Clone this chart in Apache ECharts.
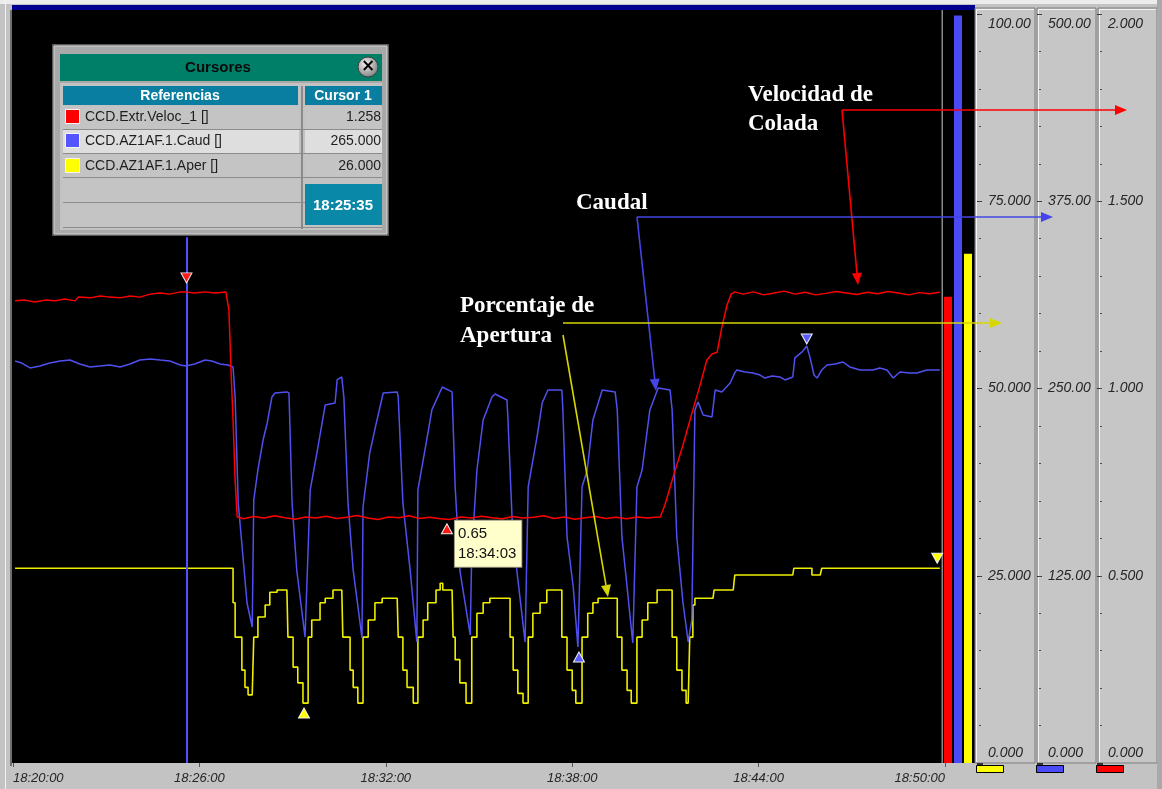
<!DOCTYPE html>
<html>
<head>
<meta charset="utf-8">
<script src="https://cdn.jsdelivr.net/npm/echarts@6/dist/echarts.min.js"></script>
<style>
html,body{margin:0;padding:0;background:#c3c3c3;}
#chart{width:1162px;height:789px;}
</style>
</head>
<body>
<div id="chart"></div>
<script>
// ---------------- DATA ----------------
// time in seconds after 18:20:00
const timeTicks = ['18:20:00','18:26:00','18:32:00','18:38:00','18:44:00','18:50:00'];
const aperTicks = ['0.000','25.000','50.000','75.000','100.00'];
const caudTicks = ['0.000','125.00','250.00','375.00','500.00'];
const velTicks  = ['0.000','0.500','1.000','1.500','2.000'];

// CCD.Extr.Veloc_1 (velocidad de colada, 0-2)
const velocidad = [
 [4,1.234],[23,1.236],[42,1.231],[62,1.236],[81,1.234],[100,1.239],[120,1.234],[126,1.244],
 [149,1.242],[168,1.247],[187,1.244],[207,1.242],[226,1.247],[245,1.244],[265,1.252],[284,1.255],
 [303,1.252],[323,1.258],[334,1.258],[351,1.255],[371,1.258],[390,1.255],[411,1.258],
 [417,1.210],[421,1.049],[425,0.916],[429,0.756],[433,0.657],
 [445,0.652],[465,0.658],[485,0.654],[505,0.660],[525,0.655],[545,0.651],[565,0.657],[585,0.654],
 [605,0.659],[625,0.653],[645,0.656],[665,0.661],[685,0.654],[705,0.650],[725,0.657],[745,0.655],
 [765,0.660],[785,0.653],[805,0.656],[825,0.652],[843,0.650],[865,0.657],[885,0.654],[905,0.659],
 [925,0.655],[945,0.652],[965,0.658],[985,0.654],[1005,0.656],[1025,0.660],[1045,0.653],[1065,0.657],
 [1085,0.651],[1105,0.655],[1125,0.658],[1145,0.653],[1165,0.656],[1185,0.652],[1205,0.657],
 [1225,0.654],[1240,0.656],[1250,0.657],
 [1259,0.689],[1275,0.764],[1294,0.849],[1313,0.943],[1327,1.009],[1340,1.076],[1350,1.092],
 [1360,1.097],[1369,1.164],[1379,1.223],[1387,1.252],[1394,1.258],
 [1410,1.252],[1430,1.258],[1450,1.250],[1470,1.255],[1490,1.260],[1510,1.252],[1530,1.257],
 [1550,1.250],[1570,1.254],[1590,1.259],[1610,1.255],[1630,1.251],[1650,1.257],[1670,1.253],
 [1690,1.259],[1710,1.255],[1730,1.250],[1750,1.256],[1770,1.253],[1790,1.257]
];

// CCD.AZ1AF.1.Caud (caudal, 0-500)
const caudal = [
 [4,268.4],[17,267.0],[33,263.7],[52,265.0],[71,267.0],[91,268.4],[110,269.0],[129,266.4],
 [149,264.4],[168,265.0],[187,265.7],[207,264.4],[226,266.4],[245,269.0],[265,269.7],[284,269.0],
 [303,268.4],[323,265.7],[334,265.0],[351,266.4],[371,269.0],[384,268.4],[400,266.4],[415,265.7],
 [425,264.4],[429,244.3],[435,173.6],[452,106.8],[462,90.8],[465,175.6],[473,195.6],[483,215.6],
 [491,227.0],[500,244.3],[506,247.0],[529,247.7],[533,247.0],[539,173.6],[548,128.8],[564,84.1],
 [574,182.3],[587,207.0],[597,227.0],[603,239.0],[622,240.3],[626,255.7],[635,257.7],[639,244.3],
 [647,173.6],[657,128.8],[674,83.5],[676,170.9],[689,207.0],[703,229.0],[715,247.0],[742,247.7],
 [744,244.3],[753,173.6],[767,128.8],[780,80.8],[782,182.3],[800,217.6],[809,235.7],[829,251.0],
 [848,247.7],[854,184.3],[863,128.8],[883,85.5],[886,140.2],[896,195.6],[908,229.0],[925,244.3],
 [931,246.3],[954,242.3],[956,229.0],[964,162.2],[973,128.8],[989,80.8],[995,184.3],[1012,217.6],
 [1022,240.3],[1033,249.0],[1060,249.0],[1062,235.7],[1070,150.9],[1082,117.5],[1091,77.4],
 [1099,184.3],[1109,195.6],[1120,229.0],[1138,249.0],[1163,247.7],[1167,235.7],[1176,150.9],
 [1186,117.5],[1197,80.1],[1205,184.3],[1215,195.6],[1230,235.7],[1246,250.4],[1269,249.0],
 [1273,235.7],[1282,150.9],[1294,106.8],[1304,80.8],[1311,95.5],[1317,235.7],[1323,241.0],
 [1333,232.3],[1350,231.0],[1356,249.0],[1369,247.7],[1385,253.7],[1394,260.4],[1398,262.4],
 [1414,261.0],[1429,260.4],[1443,259.0],[1452,257.0],[1466,258.4],[1481,257.7],[1491,255.7],
 [1506,257.7],[1510,270.4],[1524,274.4],[1533,278.4],[1539,271.1],[1547,259.0],[1553,257.0],
 [1562,262.4],[1572,265.7],[1588,266.4],[1603,267.7],[1616,264.4],[1636,262.4],[1661,262.4],
 [1674,263.7],[1688,262.4],[1700,257.0],[1713,261.0],[1732,260.4],[1746,260.4],[1765,262.4],
 [1790,262.4]
];

// CCD.AZ1AF.1.Aper (porcentaje de apertura, 0-100)
const apertura = [
 [4,26.0],[421,26.0],[425,21.4],[429,16.8],[442,12.4],[448,10.1],[454,9.1],[462,9.1],
 [465,16.8],[473,19.5],[487,21.1],[496,22.8],[510,23.1],[529,23.1],[531,16.8],[541,12.8],
 [550,10.7],[560,8.0],[564,8.0],[570,16.8],[577,19.1],[593,21.4],[603,22.0],[618,23.1],
 [635,23.1],[637,16.8],[651,12.4],[657,10.1],[666,8.0],[670,8.0],[676,16.8],[686,19.1],
 [699,21.4],[713,22.0],[742,22.0],[744,16.8],[753,12.4],[761,10.1],[773,8.0],[776,8.0],
 [782,16.8],[792,19.1],[801,21.4],[817,23.1],[825,24.0],[830,23.1],[848,23.1],[850,16.8],
 [854,13.8],[863,10.7],[875,8.0],[879,8.0],[886,16.8],[896,20.0],[908,21.4],[921,22.0],
 [954,22.0],[960,16.8],[966,12.4],[975,9.3],[985,8.0],[989,8.0],[995,16.8],[1004,20.0],
 [1018,21.4],[1031,23.1],[1056,23.1],[1060,16.8],[1070,12.4],[1080,9.7],[1087,8.0],[1091,8.0],
 [1099,16.8],[1110,20.0],[1120,21.4],[1130,22.0],[1163,22.0],[1167,16.8],[1176,12.4],[1186,9.7],
 [1194,8.0],[1197,8.0],[1205,16.8],[1215,19.1],[1226,21.4],[1244,23.1],[1269,23.1],[1273,16.8],
 [1282,12.4],[1292,9.7],[1300,8.0],[1304,8.0],[1307,16.8],[1313,21.1],[1317,22.0],[1352,22.0],
 [1354,23.1],[1391,23.1],[1394,25.1],[1506,25.1],[1508,26.0],[1539,26.0],[1543,25.1],[1559,25.1],
 [1562,26.0],[1790,26.0]
];

// cursor / marker readings
const cursorTime = 335;            // 18:25:35
const cursorClock = '18:25:35';
const cursorNames  = ['CCD.Extr.Veloc_1 []','CCD.AZ1AF.1.Caud []','CCD.AZ1AF.1.Aper []'];
const cursorValues = ['1.258','265.000','26.000'];
const velMarks  = [[335,1.258],[838,0.655]];
const caudMarks = [[1093,77.4],[1533,278.4]];
const aperMarks = [[562,8.0],[1785,26.0]];
const velReadout = ['0.65','18:34:03'];

// right-hand level bars
const barVel  = [1.245];
const barCaud = [499];
const barAper = [68];

// ---------------- STYLE ----------------
const RED = '#ff0000', BLUE = '#5050f0', YEL = '#eeee00';
const axisFont = {fontStyle:'italic', fontFamily:'Liberation Sans', fontSize:14, color:'#262626'};

function rightAxis(max, interval, offset, labels){
  return {
    gridIndex:0, type:'value', min:0, max:max, interval:interval, position:'right', offset:offset,
    axisLine:{show:false, onZero:false},
    axisTick:{show:true, length:5, lineStyle:{color:'#333', width:1}},
    minorTick:{show:false},
    splitLine:{show:false},
    axisLabel:Object.assign({margin:11, align:'left', padding:[3,0,3,0], formatter:(v,i)=>labels[i],
      verticalAlignMinLabel:'bottom', verticalAlignMaxLabel:'top'}, axisFont)
  };
}
// small dotted sub-ticks on each scale column (every 1/20 of the range)
function dotAxis(max, offset){
  return {
    gridIndex:0, type:'value', min:0, max:max, interval:max/20, position:'right', offset:offset,
    axisLine:{show:false, onZero:false}, splitLine:{show:false}, axisLabel:{show:false},
    axisTick:{show:true, length:2, lineStyle:{color:'#4a4a4a', width:1.2}}
  };
}

function markItems(pts, rot, offs){
  return pts.map((p,i)=>({value:p, symbolRotate:rot[i], symbolOffset:offs[i]}));
}

function arrow(x1,y1,x2,y2,color){
  const dx=x2-x1, dy=y2-y1, L=Math.hypot(dx,dy), ux=dx/L, uy=dy/L, hl=12, hw=5;
  const bx=x2-ux*hl, by=y2-uy*hl;
  return [
    {type:'line', z:60, shape:{x1:x1,y1:y1,x2:bx,y2:by}, style:{stroke:color, lineWidth:1.6}},
    {type:'polygon', z:60, shape:{points:[[x2,y2],[bx-uy*hw,by+ux*hw],[bx+uy*hw,by-ux*hw]]}, style:{fill:color}}
  ];
}
function txt(text,x,y,opt){
  return {type:'text', z:opt.z||55, style:Object.assign({text:text, x:x, y:y, verticalAlign:'middle'}, opt.style)};
}
function rect(x,y,w,h,fill,stroke,z,lw){
  return {type:'rect', z:z, shape:{x:x,y:y,width:w,height:h}, style:{fill:fill, stroke:stroke||null, lineWidth:lw||1}};
}
const annFont = {fill:'#ffffff', fontSize:23, fontWeight:'bold', fontFamily:'Liberation Serif'};
const boxFont = {fill:'#1e1e1e', fontSize:14, fontFamily:'Liberation Sans'};

const graphics = [];
// frame / background pieces
graphics.push(rect(0,0,1162,4,'#ececec',null,-20));
graphics.push(rect(12,5,963,5,'#000090',null,-19));
graphics.push(rect(5,0,1,789,'#f2f2f2',null,-19));
graphics.push(rect(10,10,2,756,'#707070',null,-19));
graphics.push(rect(12,10,963,753,'#000000',null,-18));
graphics.push(rect(941.5,10,1.5,753,'#8a8a8a',null,-17));
// right axis panels
[[975,60],[1037,59],[1098,59]].forEach(c=>{
  graphics.push(rect(c[0],8,c[1],755,'#c6c6c6','#7c7c7c',-16));
  graphics.push({type:'line', z:-15, shape:{x1:c[0]+1.5,y1:9,x2:c[0]+1.5,y2:762}, style:{stroke:'#f4f4f4', lineWidth:1}});
  graphics.push({type:'line', z:-15, shape:{x1:c[0]+1,y1:9.5,x2:c[0]+c[1]-1,y2:9.5}, style:{stroke:'#f4f4f4', lineWidth:1}});
});
graphics.push(rect(1157,0,5,789,'#a9a9a9',null,-16));
// colour keys under the axis panels
[[976,'#ffff00'],[1036,'#4a4af6'],[1096,'#ff0000']].forEach(c=>{
  graphics.push(rect(c[0]+0.5,765.5,27,7,c[1],'#000',5));
  graphics.push(rect(c[0]+1,763,6,2,'#333',null,5));
});

// cursor box
graphics.push(rect(52,44,337,192,'#5a5a5a',null,50));
graphics.push(rect(54,46,333,188,'#a9a9a9','#d8d8d8',50));
graphics.push(rect(60,54,322,27,'#007f68',null,51));
graphics.push(txt('Cursores',218,68,{z:52,style:{fill:'#0a0a0a',fontSize:15,fontWeight:'bold',fontFamily:'Liberation Sans',align:'center'}}));
graphics.push({type:'circle', z:52, shape:{cx:368,cy:67,r:10}, style:{fill:{type:'radial',x:0.4,y:0.35,r:0.7,colorStops:[{offset:0,color:'#f2f2f2'},{offset:1,color:'#7a7a7a'}]}, stroke:'#404040', lineWidth:1}});
graphics.push(txt('\u00d7',368,67,{z:53,style:{fill:'#000',fontSize:17,fontWeight:'bold',fontFamily:'DejaVu Sans',align:'center'}}));
graphics.push(rect(60,83,322,147,'#c2c2c2',null,51));
graphics.push(rect(63,86,235,19,'#0a7ea0',null,52));
graphics.push(rect(305,86,77,19,'#0a7ea0',null,52));
graphics.push(txt('Referencias',180,96,{z:53,style:{fill:'#ffffff',fontSize:14,fontWeight:'bold',fontFamily:'Liberation Sans',align:'center'}}));
graphics.push(txt('Cursor 1',343,96,{z:53,style:{fill:'#ffffff',fontSize:14,fontWeight:'bold',fontFamily:'Liberation Sans',align:'center'}}));
const rowY = [107,130,155,179,204];
const rowH = [22,23,22,23,23];
const rowFill = ['#c4c4c4','#dedede','#c4c4c4','#c4c4c4','#c4c4c4'];
rowY.forEach((y,i)=>{
  graphics.push(rect(63,y,236,rowH[i],rowFill[i],null,52));
  if(i<3) graphics.push(rect(305,y,77,rowH[i],rowFill[i],null,52));
  graphics.push({type:'line', z:53, shape:{x1:63,y1:y+rowH[i]+0.5,x2:382,y2:y+rowH[i]+0.5}, style:{stroke:'#8c8c8c',lineWidth:1}});
});
graphics.push({type:'line', z:54, shape:{x1:302,y1:86,x2:302,y2:229}, style:{stroke:'#8a8a8a',lineWidth:2}});
graphics.push(rect(305,184,77,41,'#0a88a8',null,55));
graphics.push(txt(cursorClock,343,206,{z:56,style:{fill:'#ffffff',fontSize:15,fontWeight:'bold',fontFamily:'Liberation Sans',align:'center'}}));
const swatch = ['#ff0000','#5555ff','#ffff00'];
const rowMid = [117,141,166];
cursorNames.forEach((n,i)=>{
  graphics.push(rect(65.5,rowMid[i]-7.5,14,14,swatch[i],'#f4f4f4',55));
  graphics.push(txt(n,85,rowMid[i],{z:55,style:boxFont}));
  graphics.push(txt(cursorValues[i],381,rowMid[i],{z:55,style:Object.assign({align:'right'},boxFont)}));
});

// annotations
graphics.push(txt('Velocidad de',748,95,{z:58,style:annFont}));
graphics.push(txt('Colada',748,124,{z:58,style:annFont}));
graphics.push(txt('Caudal',576,203,{z:58,style:annFont}));
graphics.push(txt('Porcentaje de',460,306,{z:58,style:annFont}));
graphics.push(txt('Apertura',460,336,{z:58,style:annFont}));
arrow(842,110,1127,110,RED).forEach(g=>graphics.push(g));
arrow(842,110,858,285,RED).forEach(g=>graphics.push(g));
arrow(637,217,1053,217,'#4444e8').forEach(g=>graphics.push(g));
arrow(637,217,656,391,'#4444e8').forEach(g=>graphics.push(g));
arrow(563,323,1002,323,'#d6d600').forEach(g=>graphics.push(g));
arrow(563,335,608,597,'#d6d600').forEach(g=>graphics.push(g));

const chart = echarts.init(document.getElementById('chart'), null, {renderer:'canvas'});
chart.setOption({
  backgroundColor:'#c3c3c3',
  animation:false,
  grid:[
    {left:13, top:14, width:932, height:749},
    {left:943, top:14, width:30, height:749}
  ],
  xAxis:[
    {gridIndex:0, type:'value', min:0, max:1800, interval:360,
     axisLine:{show:false, onZero:false}, splitLine:{show:false},
     axisTick:{show:true, length:4, lineStyle:{color:'#555'}},
     axisLabel:{margin:9, fontSize:13, formatter:(v,i)=>timeTicks[i],
       alignMinLabel:'left', alignMaxLabel:'right', fontStyle:'italic', fontFamily:'Liberation Sans', color:'#262626'}},
    {gridIndex:1, type:'category', data:[''], show:false}
  ],
  yAxis:[
    rightAxis(100,25,32,aperTicks),
    rightAxis(500,125,92,caudTicks),
    rightAxis(2,0.5,152,velTicks),
    {gridIndex:1, type:'value', min:0, max:2, show:false},
    {gridIndex:1, type:'value', min:0, max:500, show:false},
    {gridIndex:1, type:'value', min:0, max:100, show:false},
    dotAxis(100,34),
    dotAxis(500,94),
    dotAxis(2,155)
  ],
  series:[
    {type:'line', name:'Aper', xAxisIndex:0, yAxisIndex:0, data:apertura, step:'end', showSymbol:false, symbol:'none',
     lineStyle:{color:YEL, width:1.6}, z:3},
    {type:'line', name:'Caud', xAxisIndex:0, yAxisIndex:1, data:caudal, showSymbol:false, symbol:'none',
     lineStyle:{color:BLUE, width:1.5}, z:4,
     markLine:{silent:true, symbol:['none','none'], label:{show:false}, lineStyle:{color:'#4f4fff', width:2, type:'solid'},
       data:[[{coord:[cursorTime,0]},{coord:[cursorTime,351]}]]}},
    {type:'line', name:'Veloc', xAxisIndex:0, yAxisIndex:2, data:velocidad, showSymbol:false, symbol:'none',
     lineStyle:{color:RED, width:1.5}, z:5},
    {type:'scatter', xAxisIndex:0, yAxisIndex:2, symbol:'triangle', symbolSize:[11,10], z:8,
     itemStyle:{color:'#ff1a1a', borderColor:'#f0f0f0', borderWidth:1, opacity:1},
     data:[
       {value:velMarks[0], symbolRotate:180, symbolOffset:[0,-14]},
       {value:velMarks[1], symbolRotate:0, symbolOffset:[0,11],
        label:{show:true, position:'right', distance:2, offset:[0,15], formatter:velReadout.join('\n'),
          backgroundColor:'#ffffcc', borderColor:'#9a9a80', borderWidth:1, padding:[3,5,3,3],
          color:'#111', fontSize:15, lineHeight:20, fontFamily:'Liberation Sans', opacity:1}}
     ]},
    {type:'scatter', xAxisIndex:0, yAxisIndex:1, symbol:'triangle', symbolSize:[11,10], z:8,
     itemStyle:{color:'#5a5aff', borderColor:'#f0f0f0', borderWidth:1, opacity:1},
     data:markItems(caudMarks,[0,180],[[0,10],[0,-7]])},
    {type:'scatter', xAxisIndex:0, yAxisIndex:0, symbol:'triangle', symbolSize:[11,10], z:8,
     itemStyle:{color:'#ffff00', borderColor:'#f0f0f0', borderWidth:1, opacity:1},
     data:markItems(aperMarks,[0,180],[[0,10],[0,-10]])},
    {type:'bar', xAxisIndex:1, yAxisIndex:3, data:barVel, barWidth:8, barGap:'25%', itemStyle:{color:'#ff0000'}},
    {type:'bar', xAxisIndex:1, yAxisIndex:4, data:barCaud, barWidth:8, barGap:'25%', itemStyle:{color:'#4a4af6'}},
    {type:'bar', xAxisIndex:1, yAxisIndex:5, data:barAper, barWidth:8, barGap:'25%', itemStyle:{color:'#ffff00'}}
  ],
  graphic:{elements:graphics}
});
</script>
</body>
</html>
